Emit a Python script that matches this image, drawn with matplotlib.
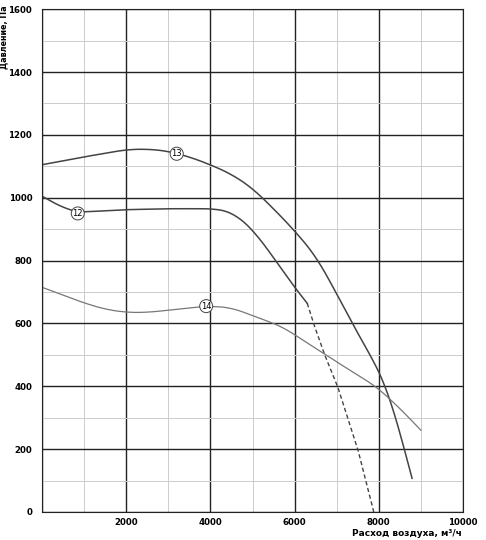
import matplotlib
matplotlib.use("Agg")
import matplotlib.pyplot as plt
import numpy as np

c13_x = [0, 1000, 2000, 2500, 3000, 3500, 4000, 4500, 5000, 5500, 6000, 6500, 7000, 7330, 7600, 8000, 8214, 8500, 8790]
c13_y = [1105, 1130, 1153, 1155, 1148, 1130, 1105, 1075, 1030, 965, 895, 815, 695, 610, 545, 450, 385, 255, 107]
c12_x = [0, 400, 800, 1000, 2000, 3000, 4000, 4400, 4800, 5200, 5600, 6000, 6300]
c12_y = [1005, 975, 955, 955, 962, 965, 965, 958, 925, 865, 790, 715, 664]
c12d_x = [6300, 6450, 6700, 7020, 7500, 7880]
c12d_y = [664, 600, 505, 400, 200, 0]
c14_x = [0, 500, 1000, 1500, 2000, 2500, 3000, 3500, 4000, 4500, 5000, 5700, 6740, 7300, 7930, 8500, 9000]
c14_y = [715, 690, 665, 645, 635, 635, 642, 650, 655, 650, 625, 590, 500, 452, 400, 330, 260]
labels = [("13", 3200, 1140), ("12", 850, 950), ("14", 3900, 655)]


def smooth(xs, ys, n=400, w=25):
    xs = np.asarray(xs, float)
    ys = np.asarray(ys, float)
    t = np.linspace(xs[0], xs[-1], n)
    v = np.interp(t, xs, ys)
    k = np.ones(w) / w
    pad = w // 2
    vp = np.concatenate([2 * v[0] - v[pad:0:-1], v, 2 * v[-1] - v[-2:-pad - 2:-1]])
    return t, np.convolve(vp, k, mode="valid")


fig = plt.figure(figsize=(4.86, 5.4), dpi=100)
ax = fig.add_axes([0.0864, 0.0519, 0.8663, 0.9311])
ax.set_xlim(0, 10000)
ax.set_ylim(0, 1600)
ax.set_xticks(np.arange(0, 10001, 2000))
ax.set_xticks(np.arange(0, 10001, 1000), minor=True)
ax.set_yticks(np.arange(0, 1601, 200))
ax.set_yticks(np.arange(0, 1601, 100), minor=True)
ax.grid(True, which="major", color="#222222", lw=1.0)
ax.grid(True, which="minor", color="#cccccc", lw=0.7)
ax.tick_params(which="both", length=0, labelsize=6.2)
ax.tick_params(axis="x", pad=4)
ax.tick_params(axis="y", pad=7)
ax.set_xticklabels([""] + [str(v) for v in range(2000, 10001, 2000)], fontweight="bold")
ax.set_yticklabels([str(v) for v in range(0, 1601, 200)], fontweight="bold")
for s in ax.spines.values():
    s.set_color("#222222")

ax.plot(*smooth(c13_x, c13_y), color="#444444", lw=1.1)
ax.plot(*smooth(c12_x, c12_y), color="#444444", lw=1.1)
ax.plot(*smooth(c12d_x, c12d_y, w=9), color="#444444", lw=1.0, ls=(0, (3, 2)))
ax.plot(*smooth(c14_x, c14_y), color="#777777", lw=0.9)
for t, x, y in labels:
    ax.text(x, y, t, fontsize=6, ha="center", va="center",
            bbox=dict(boxstyle="circle,pad=0.15", fc="white", ec="#444444", lw=0.7))

fig.text(0.008, 0.99, "Давление, Па", rotation=90, fontsize=5.8, fontweight="bold", ha="center", va="top")
fig.text(0.95, 0.004, "Расход воздуха, м³/ч", fontsize=6.5, fontweight="bold", ha="right", va="bottom")
fig.savefig("out.png", dpi=100)
